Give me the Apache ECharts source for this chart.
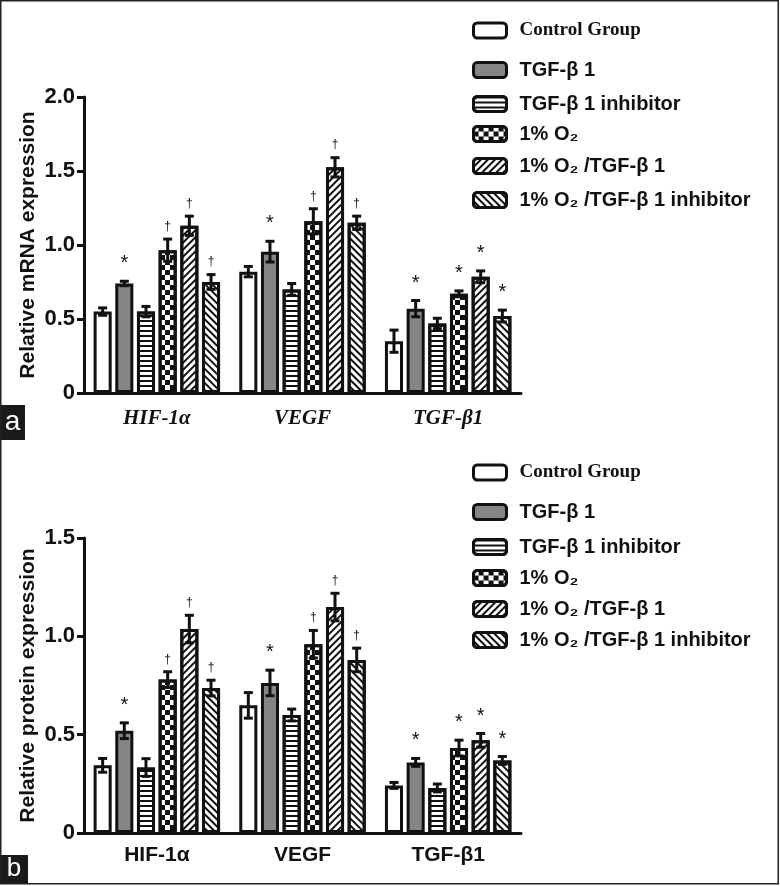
<!DOCTYPE html>
<html><head><meta charset="utf-8">
<script src="https://cdn.jsdelivr.net/npm/echarts/dist/echarts.min.js"></script>
<style>html,body{margin:0;padding:0;background:#fff}#c{width:780px;height:886px}</style>
</head><body><div id="c"></div>
<script>
// ---------- data ----------
const categoriesA = ['HIF-1α', 'VEGF', 'TGF-β1'];
const categoriesB = ['HIF-1α', 'VEGF', 'TGF-β1'];
const groupNames = ['Control Group', 'TGF-β 1', 'TGF-β 1 inhibitor', '1% O₂', '1% O₂ /TGF-β 1', '1% O₂ /TGF-β 1 inhibitor'];

// rows = groups, columns = categories (HIF-1α, VEGF, TGF-β1)
const mrnaMean = [
  [0.55, 0.82, 0.35],
  [0.74, 0.955, 0.57],
  [0.55, 0.70, 0.47],
  [0.965, 1.16, 0.67],
  [1.13, 1.525, 0.785],
  [0.75, 1.15, 0.52]
];
const mrnaErr = [
  [0.025, 0.035, 0.075],
  [0.015, 0.07, 0.055],
  [0.035, 0.04, 0.035],
  [0.075, 0.085, 0.02],
  [0.065, 0.065, 0.04],
  [0.05, 0.045, 0.04]
];
const mrnaSig = [
  ['', '', ''],
  ['*', '*', '*'],
  ['', '', ''],
  ['†', '†', '*'],
  ['†', '†', '*'],
  ['†', '†', '*']
];
const proteinMean = [
  [0.344, 0.649, 0.242],
  [0.52, 0.763, 0.359],
  [0.333, 0.60, 0.229],
  [0.78, 0.96, 0.432],
  [1.037, 1.149, 0.471],
  [0.737, 0.88, 0.369]
];
const proteinErr = [
  [0.035, 0.065, 0.015],
  [0.04, 0.065, 0.02],
  [0.045, 0.03, 0.02],
  [0.04, 0.07, 0.04],
  [0.07, 0.07, 0.035],
  [0.04, 0.06, 0.02]
];
const proteinSig = [
  ['', '', ''],
  ['*', '*', '*'],
  ['', '', ''],
  ['†', '†', '*'],
  ['†', '†', '*'],
  ['†', '†', '*']
];
const yMaxA = 2.0;
const yMaxB = 1.5;
const yStep = 0.5;
const yNameA = 'Relative mRNA expression';
const yNameB = 'Relative protein expression';

// ---------- styles ----------
const BAR_W = 0.124;   // fraction of category band (outer width, border drawn inside)
const BAR_GAP = 0.20;  // fraction of bar width
const INK = '#111';
const fills = ['#ffffff', '#858585', '#ffffff', '#ffffff', '#ffffff', '#ffffff'];
const decals = [
  null,
  null,
  { symbol: 'rect', symbolSize: 1, dashArrayX: [1, 0], dashArrayY: [1.4, 3], rotation: 0, color: INK },
  { symbol: 'rect', symbolSize: 1, dashArrayX: [[5, 5], [0, 5, 5, 0]], dashArrayY: [5, 0], color: INK },
  { symbol: 'rect', symbolSize: 1, dashArrayX: [1, 0], dashArrayY: [2, 2.5], rotation: -Math.PI / 4, color: INK },
  { symbol: 'rect', symbolSize: 1, dashArrayX: [1, 0], dashArrayY: [1.6, 2.4], rotation: Math.PI / 4, color: INK }
];
const SANS = '"Liberation Sans", Arial, sans-serif';
const SERIF = '"Liberation Serif", "Times New Roman", serif';

function makeRender(i, sig) {
  return function (params, api) {
    const k = api.value(0), m = api.value(1), e = api.value(2);
    const c = api.coord([k, m]);
    const top = api.coord([k, m + e])[1];
    const bot = api.coord([k, m - e])[1];
    const band = api.size([1, 0])[0];
    const bw = band * BAR_W, gap = bw * BAR_GAP;
    const total = 6 * bw + 5 * gap;
    const x = c[0] - total / 2 + bw / 2 + i * (bw + gap);
    const hw = 4.5;
    const st = { stroke: INK, lineWidth: 3 };
    const children = [
      { type: 'line', shape: { x1: x, y1: bot, x2: x, y2: top }, style: st },
      { type: 'line', shape: { x1: x - hw, y1: top, x2: x + hw, y2: top }, style: st },
      { type: 'line', shape: { x1: x - hw, y1: bot, x2: x + hw, y2: bot }, style: st }
    ];
    const s = sig[params.dataIndex];
    if (s) {
      const star = s === '*';
      children.push({
        type: 'text',
        style: {
          text: s, x: x, y: star ? top - 17.5 : top - 12.5,
          align: 'center', verticalAlign: 'middle',
          font: (star ? '20px ' : '12px ') + SANS, fill: INK
        }
      });
    }
    return { type: 'group', children: children };
  };
}

const panels = [
  { cats: categoriesA, mean: mrnaMean, err: mrnaErr, sig: mrnaSig, max: yMaxA, name: yNameA,
    grid: { left: 84, top: 97, width: 437, height: 296 },
    label: { fontFamily: SERIF, fontStyle: 'italic', fontWeight: 'bold', fontSize: 21, margin: 15 },
    legendCenters: [27, 66, 100, 130, 162, 196] },
  { cats: categoriesB, mean: proteinMean, err: proteinErr, sig: proteinSig, max: yMaxB, name: yNameB,
    grid: { left: 84, top: 538, width: 437, height: 295 },
    label: { fontFamily: SANS, fontStyle: 'normal', fontWeight: 'bold', fontSize: 21, margin: 12 },
    legendCenters: [469, 508, 543, 574, 605, 636] }
];

const grids = [], xAxes = [], yAxes = [], series = [], legends = [];
panels.forEach((p, pi) => {
  grids.push(p.grid);
  xAxes.push({
    type: 'category', gridIndex: pi, data: p.cats,
    axisLine: { lineStyle: { color: INK, width: 3 } },
    axisTick: { alignWithLabel: true, length: 9, lineStyle: { color: INK, width: 3 } },
    axisLabel: Object.assign({ color: INK }, p.label),
    splitLine: { show: false }
  });
  yAxes.push({
    type: 'value', gridIndex: pi, min: 0, max: p.max, interval: yStep,
    name: p.name, nameLocation: 'middle', nameGap: 45, nameMoveOverlap: false,
    nameTextStyle: { color: INK, fontFamily: SANS, fontWeight: 'bold', fontSize: 21 },
    axisLine: { show: true, lineStyle: { color: INK, width: 3 } },
    axisTick: { show: true, length: 7, lineStyle: { color: INK, width: 3 } },
    splitLine: { show: false },
    axisLabel: {
      color: INK, fontFamily: SANS, fontWeight: 'bold', fontSize: 22, margin: 9,
      formatter: v => (v === 0 ? '0' : v.toFixed(1))
    }
  });
  groupNames.forEach((g, i) => {
    series.push({
      type: 'bar', name: g, xAxisIndex: pi, yAxisIndex: pi,
      data: p.mean[i], barWidth: (BAR_W * 100) + '%', barGap: (BAR_GAP * 100) + '%',
      itemStyle: Object.assign({ color: fills[i], borderColor: INK, borderWidth: 3 }, decals[i] ? { decal: decals[i] } : {}),
      emphasis: { disabled: true }, silent: true, z: 2
    });
    series.push({
      type: 'custom', name: 'err_' + pi + '_' + i, xAxisIndex: pi, yAxisIndex: pi,
      data: p.mean[i].map((m, k) => [k, m, p.err[i][k]]),
      renderItem: makeRender(i, p.sig[i]), silent: true, z: 5
    });
    const isSerif = i === 0;
    legends.push({
      left: 467, top: p.legendCenters[i] - 11,
      data: [g], selectedMode: false,
      icon: 'roundRect', itemWidth: 33, itemHeight: 15,
      itemStyle: { borderColor: INK, borderWidth: 3 },
      textStyle: {
        color: INK, fontFamily: isSerif ? SERIF : SANS, fontWeight: 'bold',
        fontSize: isSerif ? 19 : 20, padding: [0, 0, 0, 8]
      }
    });
  });
});

const chart = echarts.init(document.getElementById('c'), null, { renderer: 'canvas' });
chart.setOption({
  animation: false,
  backgroundColor: '#fff',
  grid: grids, xAxis: xAxes, yAxis: yAxes, series: series, legend: legends,
  graphic: [
    { type: 'rect', silent: true, z: 100, shape: { x: 0.75, y: 0.75, width: 777.5, height: 883 }, style: { fill: 'none', stroke: '#222', lineWidth: 1.5 } },
    { type: 'rect', silent: true, shape: { x: 0, y: 405, width: 25, height: 35 }, style: { fill: '#1a1a1a' } },
    { type: 'text', silent: true, style: { text: 'a', x: 12.5, y: 422, align: 'center', verticalAlign: 'middle', textAlign: 'center', textVerticalAlign: 'middle', fill: '#fff', font: '28px ' + SANS } },
    { type: 'rect', silent: true, shape: { x: 0, y: 855, width: 28, height: 29 }, style: { fill: '#1a1a1a' } },
    { type: 'text', silent: true, style: { text: 'b', x: 14, y: 869, align: 'center', verticalAlign: 'middle', textAlign: 'center', textVerticalAlign: 'middle', fill: '#fff', font: '26px ' + SANS } }
  ]
});
</script>
</body></html>
